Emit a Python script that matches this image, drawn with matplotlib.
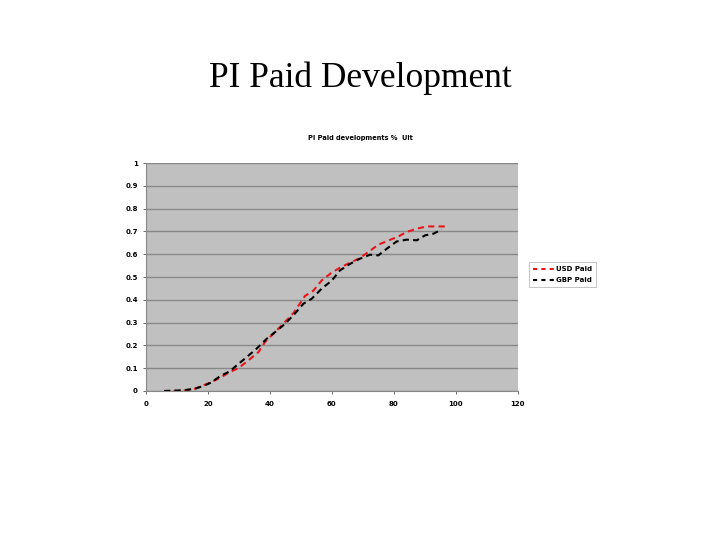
import matplotlib
matplotlib.use("Agg")
import matplotlib.pyplot as plt

# development month vs % of ultimate paid
usd_x = [8.8, 12, 15.8, 20.7, 23.9, 27, 29.8, 33, 36.3, 38.4, 41, 44.3, 47.6, 51.3, 54,
         56.7, 60, 63, 65.9, 69, 71.8, 75, 78.2, 81.5, 84, 87.4, 90.6, 94, 96.5]
usd_y = [0.0, 0.0, 0.01, 0.037, 0.058, 0.083, 0.10, 0.134, 0.171, 0.215, 0.25, 0.295, 0.342,
         0.417, 0.44, 0.485, 0.52, 0.544, 0.563, 0.583, 0.61, 0.642, 0.66, 0.678, 0.697,
         0.712, 0.722, 0.722, 0.722]
gbp_x = [5.8, 12, 15.8, 18.5, 21, 24, 27, 29.3, 32.5, 35.7, 39, 41.7, 44.9, 48, 50.8, 53.5,
         56.7, 60, 62.6, 65.9, 69, 72.3, 75, 77.7, 80.9, 84.2, 87.4, 90.1, 92.8, 95.5]
gbp_y = [0.0, 0.003, 0.01, 0.022, 0.037, 0.066, 0.086, 0.113, 0.149, 0.186, 0.23, 0.259,
         0.295, 0.339, 0.383, 0.405, 0.449, 0.485, 0.529, 0.558, 0.58, 0.598, 0.595, 0.624,
         0.656, 0.664, 0.661, 0.683, 0.69, 0.709]
x_ticks = [0, 20, 40, 60, 80, 100, 120]
y_ticks = [0, 0.1, 0.2, 0.3, 0.4, 0.5, 0.6, 0.7, 0.8, 0.9, 1]

fig = plt.figure(figsize=(7.2, 5.4), dpi=100)
fig.text(0.5, 0.855, "PI Paid Development", ha="center", va="center",
         family="Liberation Serif", fontsize=25.5)
fig.text(0.5, 0.745, "PI Paid developments %  Ult", ha="center", va="center",
         fontsize=4.8, fontweight="bold")

ax = fig.add_axes([0.203, 0.276, 0.516, 0.422])
ax.set_facecolor("#c0c0c0")
ax.plot(usd_x, usd_y, color="#e8151b", ls=(0, (3, 2)), lw=1.5, label="USD Paid")
ax.plot(gbp_x, gbp_y, color="black", ls=(0, (3, 2)), lw=1.5, label="GBP Paid")

ax.set_xlim(0, 120)
ax.set_ylim(0, 1)
ax.set_xticks(x_ticks)
ax.set_xticklabels([str(t) for t in x_ticks])
ax.set_yticks(y_ticks)
ax.set_yticklabels([f"{t:g}" for t in y_ticks])
ax.tick_params(labelsize=5, length=2, width=0.6, color="#555555")
ax.tick_params(axis="x", pad=5)
ax.tick_params(axis="y", pad=4)
for lbl in ax.get_xticklabels() + ax.get_yticklabels():
    lbl.set_fontweight("bold")
ax.yaxis.grid(True, color="#888888", lw=1)
ax.set_axisbelow(True)
for side in ["top", "right"]:
    ax.spines[side].set_visible(False)
for side in ["left", "bottom"]:
    ax.spines[side].set_color("#888888")
    ax.spines[side].set_linewidth(0.8)

leg = ax.legend(loc="center left", bbox_to_anchor=(1.02, 0.51),
                prop={"weight": "bold", "size": 5}, frameon=True, fancybox=False,
                handlelength=3, borderpad=0.6, labelspacing=0.7, handletextpad=0.3)
leg.get_frame().set_edgecolor("#aaaaaa")
leg.get_frame().set_linewidth(0.6)
for h in leg.get_lines():
    h.set_linestyle((0, (2, 2)))

fig.savefig("out.png", dpi=100)
